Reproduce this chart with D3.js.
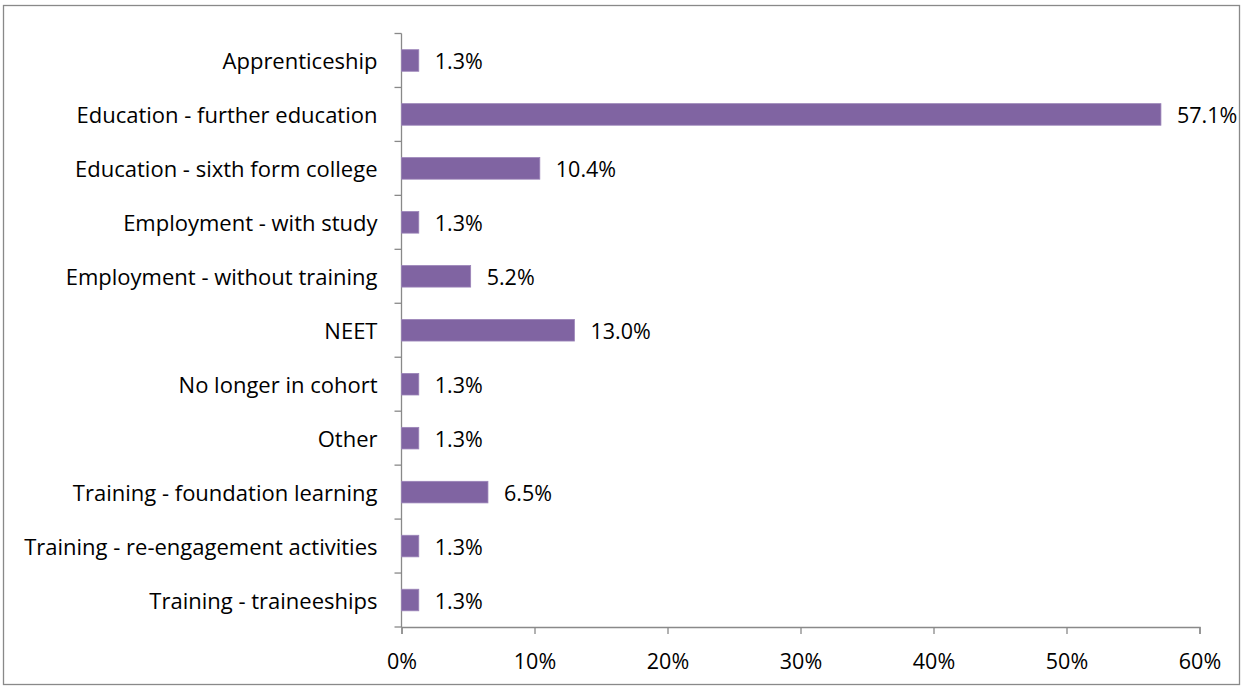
<!DOCTYPE html>
<html><head><meta charset="utf-8">
<script src="https://cdn.jsdelivr.net/npm/d3@7"></script>
<style>body{margin:0;background:#fff}svg{display:block}text{font-family:"Open Sans",sans-serif;fill:#000}</style>
</head><body>
<svg id="c" width="1243" height="688"></svg>
<script>
const categories = ["Apprenticeship","Education - further education","Education - sixth form college","Employment - with study","Employment - without training","NEET","No longer in cohort","Other","Training - foundation learning","Training - re-engagement activities","Training - traineeships"];
const values = [1.3,57.1,10.4,1.3,5.2,13.0,1.3,1.3,6.5,1.3,1.3];
const xTicks = [0,10,20,30,40,50,60];

const FS = 22, VFS = 21.5;
const svg = d3.select("#c");
svg.append("rect").attr("x",3.5).attr("y",5.5).attr("width",1236).attr("height",679).attr("fill","none").attr("stroke","#898989").attr("stroke-width",1.3);

const pLeft = 401.5, pRight = 1199.5, pTop = 33.5, pBottom = 627;
const x = d3.scaleLinear().domain([0,60]).range([pLeft,pRight]);
const y = d3.scaleBand().domain(categories).range([pTop,pBottom]).paddingInner(0.6).paddingOuter(0.3);
const yb = d3.scaleBand().domain(categories).range([pTop,pBottom]);

const axisColor = "#898989";
svg.append("line").attr("x1",pLeft).attr("x2",pLeft).attr("y1",pTop).attr("y2",pBottom).attr("stroke",axisColor).attr("stroke-width",1.3);
const bounds = categories.map(c=>yb(c)).concat([pBottom]);
svg.selectAll(".yt").data(bounds).enter().append("line").attr("x1",pLeft-7).attr("x2",pLeft).attr("y1",d=>d).attr("y2",d=>d).attr("stroke",axisColor).attr("stroke-width",1.3);

const xa = d3.axisBottom(x).tickValues(xTicks).tickFormat(d=>d+"%").tickSize(7);
const gx = svg.append("g").attr("transform",`translate(0,${pBottom})`).call(xa);
gx.select(".domain").attr("stroke",axisColor).attr("stroke-width",1.3);
gx.selectAll(".tick line").attr("stroke",axisColor).attr("stroke-width",1.3);
gx.selectAll("text").attr("font-size",VFS).attr("font-family","Open Sans").attr("fill","#000").attr("y",33.5).attr("dy","0.38em");

svg.selectAll(".cl").data(categories).enter().append("text").attr("x",pLeft-24).attr("y",d=>yb(d)+yb.bandwidth()/2).attr("dy","0.4em").attr("text-anchor","end").attr("font-size",FS).text(d=>d);

svg.selectAll(".bar").data(values).enter().append("rect")
  .attr("x",x(0)).attr("y",(d,i)=>y(categories[i])).attr("width",d=>x(d)-x(0)).attr("height",y.bandwidth())
  .attr("fill","#8064A2").attr("stroke","#9b84b8").attr("stroke-width",0.8);

svg.selectAll(".vl").data(values).enter().append("text")
  .attr("x",d=>x(d)+16).attr("y",(d,i)=>yb(categories[i])+yb.bandwidth()/2).attr("dy","0.4em").attr("font-size",VFS)
  .text(d=>d.toFixed(1)+"%");
</script>
</body></html>
